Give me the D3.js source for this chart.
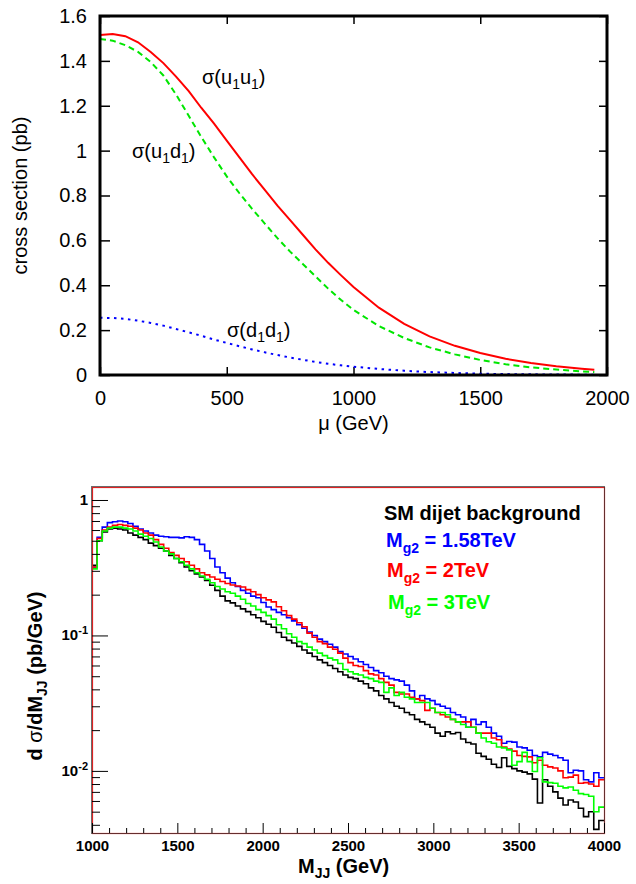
<!DOCTYPE html>
<html>
<head>
<meta charset="utf-8">
<script src="https://cdn.jsdelivr.net/npm/d3@7"></script>
<style>
  body { margin: 0; background: #fff; }
  svg { display: block; font-family: "Liberation Sans", Arial, Helvetica, sans-serif; }
</style>
</head>
<body>
<script>
// ---- top panel: cross sections vs mu ----
var mu = [0, 50, 100, 150, 200, 250, 300, 350, 400, 450, 500, 550, 600, 650, 700, 750, 800, 850, 900, 950,
          1000, 1100, 1200, 1300, 1400, 1500, 1600, 1700, 1800, 1900, 1950];
var sigU1U1 = [1.515, 1.52, 1.51, 1.483, 1.44, 1.39, 1.33, 1.265, 1.19, 1.12, 1.045, 0.97, 0.895, 0.825, 0.755, 0.69, 0.625, 0.56, 0.50, 0.445,
               0.392, 0.30, 0.228, 0.172, 0.13, 0.098, 0.072, 0.053, 0.039, 0.028, 0.023];
var sigU1D1 = [1.497, 1.49, 1.47, 1.44, 1.395, 1.335, 1.25, 1.155, 1.06, 0.97, 0.885, 0.81, 0.74, 0.675, 0.61, 0.55, 0.495, 0.44, 0.385, 0.335,
               0.29, 0.218, 0.165, 0.123, 0.092, 0.067, 0.048, 0.034, 0.024, 0.016, 0.013];
var sigD1D1 = [0.255, 0.254, 0.25, 0.242, 0.232, 0.22, 0.205, 0.19, 0.175, 0.158, 0.143, 0.128, 0.114, 0.101, 0.089, 0.078, 0.068, 0.058, 0.05, 0.043,
               0.037, 0.027, 0.019, 0.013, 0.009, 0.006, 0.004, 0.003, 0.002, 0.0015, 0.001];
var topXTicks = [0, 500, 1000, 1500, 2000];
var topYTicks = [0, 0.2, 0.4, 0.6, 0.8, 1, 1.2, 1.4, 1.6];

// ---- bottom panel: dijet mass spectra, 100 bins of 30 GeV from 1000 to 4000 ----
var mjjMin = 1000, mjjMax = 4000;
var smBkg = [0.33, 0.50, 0.58, 0.61, 0.62, 0.61, 0.60, 0.57, 0.55, 0.53,
             0.51, 0.48, 0.46, 0.44, 0.42, 0.39, 0.37, 0.345, 0.32, 0.30,
             0.285, 0.27, 0.255, 0.235, 0.215, 0.195, 0.18, 0.174, 0.165, 0.157,
             0.15, 0.142, 0.135, 0.127, 0.121, 0.115, 0.105, 0.097, 0.092, 0.088,
             0.083, 0.078, 0.074, 0.070, 0.066, 0.063, 0.060, 0.057, 0.054, 0.051,
             0.049, 0.048, 0.046, 0.044, 0.041, 0.039, 0.036, 0.034, 0.032, 0.030,
             0.029, 0.027, 0.026, 0.024, 0.023, 0.022, 0.021, 0.019, 0.018, 0.0194,
             0.0188, 0.0192, 0.0172, 0.0162, 0.0158, 0.0135, 0.0128, 0.0122, 0.0112, 0.0106,
             0.0125, 0.0108, 0.0104, 0.0100, 0.0098, 0.0095, 0.0087, 0.0058, 0.0086, 0.0077,
             0.0070, 0.0063, 0.0056, 0.0061, 0.0059, 0.0053, 0.0046, 0.0050, 0.0037, 0.0043];
var mg158 = [0.32, 0.53, 0.63, 0.68, 0.69, 0.70, 0.69, 0.67, 0.64, 0.61,
             0.59, 0.57, 0.55, 0.54, 0.535, 0.53, 0.53, 0.525, 0.535, 0.53,
             0.51, 0.47, 0.42, 0.37, 0.32, 0.29, 0.265, 0.245, 0.23, 0.215,
             0.205, 0.195, 0.19, 0.175, 0.162, 0.155, 0.148, 0.142, 0.135, 0.128,
             0.120, 0.113, 0.106, 0.100, 0.094, 0.090, 0.086, 0.082, 0.076, 0.073,
             0.070, 0.067, 0.064, 0.061, 0.058, 0.055, 0.053, 0.050, 0.048, 0.047,
             0.046, 0.043, 0.039, 0.034, 0.036, 0.034, 0.033, 0.031, 0.030, 0.029,
             0.027, 0.026, 0.025, 0.021, 0.024, 0.022, 0.023, 0.021, 0.019, 0.018,
             0.016, 0.0165, 0.0163, 0.015, 0.0148, 0.0142, 0.0130, 0.0127, 0.0137, 0.0133,
             0.0130, 0.0125, 0.0120, 0.0097, 0.0101, 0.0100, 0.0086, 0.0083, 0.0097, 0.0089];
var mg2 = [0.32, 0.52, 0.60, 0.63, 0.65, 0.66, 0.65, 0.64, 0.62, 0.60,
           0.57, 0.55, 0.51, 0.47, 0.44, 0.41, 0.39, 0.37, 0.35, 0.33,
           0.31, 0.29, 0.28, 0.27, 0.26, 0.25, 0.242, 0.236, 0.232, 0.228,
           0.218, 0.21, 0.20, 0.19, 0.183, 0.177, 0.163, 0.152, 0.140, 0.132,
           0.124, 0.116, 0.104, 0.097, 0.090, 0.087, 0.082, 0.079, 0.074, 0.068,
           0.063, 0.060, 0.059, 0.055, 0.052, 0.051, 0.048, 0.045, 0.043, 0.038,
           0.037, 0.037, 0.035, 0.034, 0.033, 0.028, 0.029, 0.027, 0.026, 0.025,
           0.024, 0.023, 0.023, 0.023, 0.021, 0.019, 0.019, 0.019, 0.0175, 0.017,
           0.015, 0.0145, 0.014, 0.013, 0.0128, 0.0127, 0.0115, 0.012, 0.011, 0.0107,
           0.0105, 0.0100, 0.0089, 0.0090, 0.0093, 0.0081, 0.0082, 0.0080, 0.0077, 0.0086];
var mg3 = [0.31, 0.50, 0.59, 0.62, 0.63, 0.63, 0.62, 0.61, 0.59, 0.56,
           0.54, 0.52, 0.49, 0.45, 0.42, 0.40, 0.37, 0.35, 0.33, 0.31,
           0.29, 0.275, 0.26, 0.245, 0.23, 0.22, 0.21, 0.205, 0.195, 0.185,
           0.172, 0.165, 0.155, 0.148, 0.140, 0.132, 0.120, 0.112, 0.103, 0.097,
           0.090, 0.087, 0.082, 0.078, 0.074, 0.071, 0.068, 0.066, 0.062, 0.056,
           0.054, 0.052, 0.051, 0.049, 0.048, 0.046, 0.045, 0.038, 0.041, 0.036,
           0.038, 0.035, 0.034, 0.032, 0.032, 0.032, 0.029, 0.027, 0.027, 0.026,
           0.024, 0.023, 0.022, 0.021, 0.021, 0.019, 0.0175, 0.0164, 0.016, 0.015,
           0.0148, 0.0143, 0.011, 0.0117, 0.0137, 0.0117, 0.0099, 0.0125, 0.0083, 0.0082,
           0.0081, 0.0077, 0.0075, 0.0076, 0.0072, 0.0068, 0.0067, 0.0065, 0.0050, 0.0054];
var botXMajor = [1000, 1500, 2000, 2500, 3000, 3500, 4000];
var botYMajor = [1, 0.1, 0.01];
var botYLabels = [["1", ""], ["10", "-1"], ["10", "-2"]];
var legendLines = [
    {main: "M", sub: "g2", rest: " = 1.58TeV", color: "#0000ff"},
    {main: "M", sub: "g2", rest: " = 2TeV", color: "#ff0000"},
    {main: "M", sub: "g2", rest: " = 3TeV", color: "#00ff00"}
];

var W = 636, H = 884;
var svg = d3.select("body").append("svg").attr("width", W).attr("height", H);

/**
 *  TOP PANEL
 */
var t = {left: 100, right: 607, top: 16, bottom: 375};
var xT = d3.scaleLinear().domain([0, 2000]).range([t.left, t.right]);
var yT = d3.scaleLinear().domain([0, 1.6]).range([t.bottom, t.top]);
var fmt = function(d) { return String(d); };

var gT = svg.append("g").style("font-size", "20px");

gT.append("g").attr("transform", "translate(0," + t.bottom + ")")
    .call(d3.axisBottom(xT).tickValues(topXTicks).tickSize(-8).tickPadding(16).tickFormat(fmt));
gT.append("g").attr("transform", "translate(0," + t.top + ")")
    .call(d3.axisTop(xT).tickValues(topXTicks).tickSize(-8).tickFormat(""));
gT.append("g").attr("transform", "translate(" + t.left + ",0)")
    .call(d3.axisLeft(yT).tickValues(topYTicks).tickSize(-10).tickPadding(13).tickFormat(fmt));
gT.append("g").attr("transform", "translate(" + t.right + ",0)")
    .call(d3.axisRight(yT).tickValues(topYTicks).tickSize(-8).tickFormat(""));
gT.selectAll(".domain").remove();
gT.selectAll(".tick line").attr("stroke", "#000").attr("stroke-width", 1.5);
gT.selectAll(".tick text").attr("fill", "#000").style("font-size", "20px")
    .style("font-family", "'Liberation Sans', Arial, sans-serif");

var lineT = function(vals) {
    return d3.line().x(function(d, i) { return xT(mu[i]); }).y(function(d) { return yT(d); })(vals);
};
gT.append("path").attr("d", lineT(sigU1U1)).attr("fill", "none")
    .attr("stroke", "#ff0000").attr("stroke-width", 2);
gT.append("path").attr("d", lineT(sigU1D1)).attr("fill", "none")
    .attr("stroke", "#00e600").attr("stroke-width", 2).attr("stroke-dasharray", "6,4");
gT.append("path").attr("d", lineT(sigD1D1)).attr("fill", "none")
    .attr("stroke", "#0000ff").attr("stroke-width", 2).attr("stroke-dasharray", "2.5,4.5");

gT.append("rect").attr("x", t.left).attr("y", t.top)
    .attr("width", t.right - t.left).attr("height", t.bottom - t.top)
    .attr("fill", "none").attr("stroke", "#000").attr("stroke-width", 3);

// curve labels, sigma(ab) with subscripts
var sigmaLabel = function(x, y, a, b) {
    var txt = gT.append("text").attr("x", x).attr("y", y).attr("fill", "#000");
    txt.append("tspan").text("\u03c3(" + a);
    txt.append("tspan").text("1").attr("dy", 5).style("font-size", "14px");
    txt.append("tspan").text(b).attr("dy", -5);
    txt.append("tspan").text("1").attr("dy", 5).style("font-size", "14px");
    txt.append("tspan").text(")").attr("dy", -5);
};
sigmaLabel(202, 84, "u", "u");
sigmaLabel(132, 158, "u", "d");
sigmaLabel(227, 337, "d", "d");

gT.append("text").attr("x", (t.left + t.right) / 2).attr("y", 430)
    .attr("text-anchor", "middle").text("\u03bc (GeV)");
gT.append("text").attr("transform", "translate(27," + ((t.top + t.bottom) / 2) + ") rotate(-90)")
    .attr("text-anchor", "middle").text("cross section (pb)");

/**
 *  BOTTOM PANEL
 */
var b = {left: 92, right: 604, top: 487, bottom: 833};
var xB = d3.scaleLinear().domain([mjjMin, mjjMax]).range([b.left, b.right]);
var yB = d3.scaleLog().domain([0.00348, 1.247]).range([b.bottom, b.top]);

var gB = svg.append("g").style("font-weight", "bold");

// histograms
var binW = (mjjMax - mjjMin) / smBkg.length;
var stepPath = function(vals) {
    var pts = vals.map(function(v, i) { return [mjjMin + i * binW, v]; });
    pts.push([mjjMax, vals[vals.length - 1]]);
    return d3.line().curve(d3.curveStepAfter)
        .x(function(d) { return xB(d[0]); }).y(function(d) { return yB(d[1]); })(pts);
};
[[smBkg, "#000000"], [mg158, "#0000ff"], [mg2, "#ff0000"], [mg3, "#00ff00"]].forEach(function(s) {
    gB.append("path").attr("d", stepPath(s[0])).attr("fill", "none")
        .attr("stroke", s[1]).attr("stroke-width", 1.6);
});

// frame
gB.append("rect").attr("x", b.left + 0.5).attr("y", b.top + 0.5)
    .attr("width", b.right - b.left).attr("height", b.bottom - b.top)
    .attr("fill", "none").attr("stroke", "#dd2222").attr("stroke-width", 1.2);
gB.append("rect").attr("x", b.left - 0.5).attr("y", b.top - 0.5)
    .attr("width", b.right - b.left + 1).attr("height", b.bottom - b.top + 1)
    .attr("fill", "none").attr("stroke", "#333").attr("stroke-width", 1).attr("stroke-opacity", 0.7);

// x axis ticks
var minorX = d3.range(mjjMin, mjjMax + 1, 100).filter(function(d) { return d % 500 !== 0; });
gB.append("g").attr("transform", "translate(0," + b.bottom + ")")
    .call(d3.axisBottom(xB).tickValues(minorX).tickSize(-5).tickFormat(""));
gB.append("g").attr("transform", "translate(0," + b.bottom + ")")
    .call(d3.axisBottom(xB).tickValues(botXMajor).tickSize(-10).tickPadding(7).tickFormat(fmt));

// y axis ticks
var minorY = yB.ticks().filter(function(d) { return botYMajor.indexOf(d) < 0; });
gB.append("g").attr("transform", "translate(" + b.left + ",0)")
    .call(d3.axisLeft(yB).tickValues(minorY).tickSize(-8).tickFormat(""));
gB.append("g").attr("transform", "translate(" + b.left + ",0)")
    .call(d3.axisLeft(yB).tickValues(botYMajor).tickSize(-16).tickFormat(""));
gB.selectAll(".domain").remove();
gB.selectAll(".tick line").attr("stroke", "#000").attr("stroke-width", 1);
gB.selectAll(".tick text").attr("fill", "#000").style("font-size", "15px").style("font-weight", "bold")
    .style("font-family", "'Liberation Sans', Arial, sans-serif");

botYMajor.forEach(function(v, i) {
    var txt = gB.append("text").attr("x", 88).attr("y", yB(v) + 5)
        .attr("text-anchor", "end").style("font-size", "15px");
    txt.append("tspan").text(botYLabels[i][0]);
    if (botYLabels[i][1]) {
        txt.append("tspan").text(botYLabels[i][1]).attr("dy", -6).style("font-size", "11px");
    }
});

// axis titles
var xt = gB.append("text").attr("x", 298).attr("y", 873).style("font-size", "20px");
xt.append("tspan").text("M");
xt.append("tspan").text("JJ").attr("dy", 5).style("font-size", "14px");
xt.append("tspan").text(" (GeV)").attr("dy", -5);

var yt = gB.append("text").attr("transform", "translate(42,676) rotate(-90)")
    .attr("text-anchor", "middle").style("font-size", "20px");
yt.append("tspan").text("d ");
yt.append("tspan").text("\u03c3").style("font-weight", "normal");
yt.append("tspan").text("/dM");
yt.append("tspan").text("JJ").attr("dy", 5).style("font-size", "14px");
yt.append("tspan").text(" (pb/GeV)").attr("dy", -5);

// legend
gB.append("text").attr("x", 384).attr("y", 520).style("font-size", "20px").text("SM dijet background");
var legY = [547, 577, 609];
legendLines.forEach(function(l, i) {
    var txt = gB.append("text").attr("x", 386 + i).attr("y", legY[i])
        .attr("fill", l.color).style("font-size", "20px");
    txt.append("tspan").text(l.main);
    txt.append("tspan").text(l.sub).attr("dy", 6).style("font-size", "14px");
    txt.append("tspan").text(l.rest).attr("dy", -6);
});
</script>
</body>
</html>
